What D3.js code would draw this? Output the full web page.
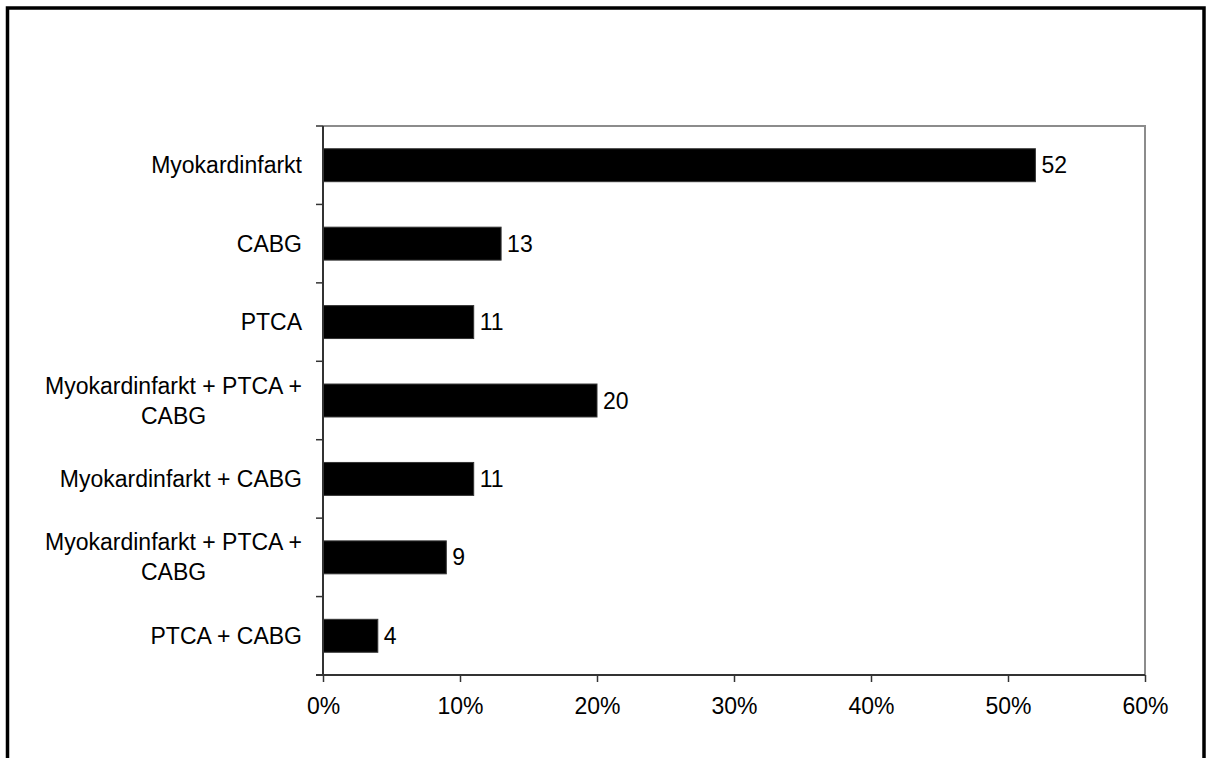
<!DOCTYPE html>
<html>
<head>
<meta charset="utf-8">
<script src="https://cdn.jsdelivr.net/npm/d3@7"></script>
<style>
  html, body { margin: 0; padding: 0; background: #fff; }
  svg { display: block; }
  text { font-family: "Liberation Sans", Arial, sans-serif; fill: #000; }
</style>
</head>
<body>
<svg id="chart" width="1206" height="758"></svg>
<script>
// ---- data ----
const categories = [
  "Myokardinfarkt",
  "CABG",
  "PTCA",
  "Myokardinfarkt + PTCA +\nCABG",
  "Myokardinfarkt + CABG",
  "Myokardinfarkt + PTCA +\nCABG",
  "PTCA + CABG"
];
const values = [52, 13, 11, 20, 11, 9, 4];
const xTicks = [0, 10, 20, 30, 40, 50, 60];
const xTickLabels = ["0%", "10%", "20%", "30%", "40%", "50%", "60%"];

// ---- layout ----
const svg = d3.select("#chart");
const plot = { left: 323, right: 1145, top: 126, bottom: 675 };
const fontSize = 23;

// outer frame
svg.append("rect")
  .attr("x", 7.5).attr("y", 8)
  .attr("width", 1196.5).attr("height", 820)
  .attr("fill", "none").attr("stroke", "#000").attr("stroke-width", 3.5);

const x = d3.scaleLinear().domain([0, 60]).range([plot.left, plot.right]);
const idx = categories.map((d, i) => i);
const y = d3.scaleBand().domain(idx).range([plot.top, plot.bottom])
  .paddingInner(0.58).paddingOuter(0.29);
const yb = d3.scaleBand().domain(idx).range([plot.top, plot.bottom]);

// plot frame (top & right, gray)
svg.append("path")
  .attr("d", `M${plot.left},${plot.top}H${plot.right}V${plot.bottom}`)
  .attr("fill", "none").attr("stroke", "#8c8c8c").attr("stroke-width", 2);

// bars
svg.append("g").selectAll("rect").data(values).join("rect")
  .attr("x", x(0))
  .attr("y", (d, i) => y(i))
  .attr("width", d => x(d) - x(0))
  .attr("height", y.bandwidth())
  .attr("fill", "#000")
  .attr("stroke", "#333").attr("stroke-width", 1);

// value labels
svg.append("g").selectAll("text").data(values).join("text")
  .attr("x", d => x(d) + 6)
  .attr("y", (d, i) => y(i) + y.bandwidth() / 2)
  .attr("dy", "0.35em")
  .attr("font-size", fontSize)
  .text(d => d);

// y axis line and ticks (at band boundaries)
const yAxisG = svg.append("g");
yAxisG.append("line")
  .attr("x1", plot.left).attr("x2", plot.left)
  .attr("y1", plot.top).attr("y2", plot.bottom)
  .attr("stroke", "#333").attr("stroke-width", 2);
const boundaries = idx.map(i => yb(i)).concat([plot.bottom]);
yAxisG.selectAll("line.tick").data(boundaries).join("line")
  .attr("class", "tick")
  .attr("x1", plot.left - 7).attr("x2", plot.left)
  .attr("y1", d => d).attr("y2", d => d)
  .attr("stroke", "#333").attr("stroke-width", 1.5);

// category labels (multi-line, centered block, right-aligned)
const lineH = 30;
categories.forEach((c, i) => {
  const lines = c.split("\n");
  const cy = yb(i) + yb.bandwidth() / 2;
  const t = svg.append("text")
    .attr("font-size", fontSize)
    .attr("text-anchor", lines.length > 1 ? "middle" : "end");
  // measure widest line for centered multi-line
  let anchorX = 302;
  if (lines.length > 1) {
    const tmp = svg.append("text").attr("font-size", fontSize).text(lines[0]);
    let w = 0;
    lines.forEach(l => { tmp.text(l); w = Math.max(w, tmp.node().getComputedTextLength()); });
    tmp.remove();
    anchorX = 302 - w / 2;
  }
  lines.forEach((l, k) => {
    t.append("tspan")
      .attr("x", anchorX)
      .attr("y", cy + (k - (lines.length - 1) / 2) * lineH)
      .attr("dy", "0.35em")
      .text(l);
  });
});

// x axis
const xAxis = d3.axisBottom(x).tickValues(xTicks)
  .tickFormat((d, i) => xTickLabels[i]).tickSizeInner(7).tickSizeOuter(0).tickPadding(16);
const xg = svg.append("g").attr("transform", `translate(0,${plot.bottom})`).call(xAxis);
xg.select(".domain").remove();
xg.selectAll(".tick line").attr("stroke", "#333").attr("stroke-width", 1.5);
xg.selectAll(".tick text")
  .attr("font-size", fontSize)
  .attr("font-family", "'Liberation Sans', Arial, sans-serif")
  .attr("fill", "#000");
svg.append("line")
  .attr("x1", plot.left - 7).attr("x2", plot.right)
  .attr("y1", plot.bottom).attr("y2", plot.bottom)
  .attr("stroke", "#333").attr("stroke-width", 2);
</script>
</body>
</html>
